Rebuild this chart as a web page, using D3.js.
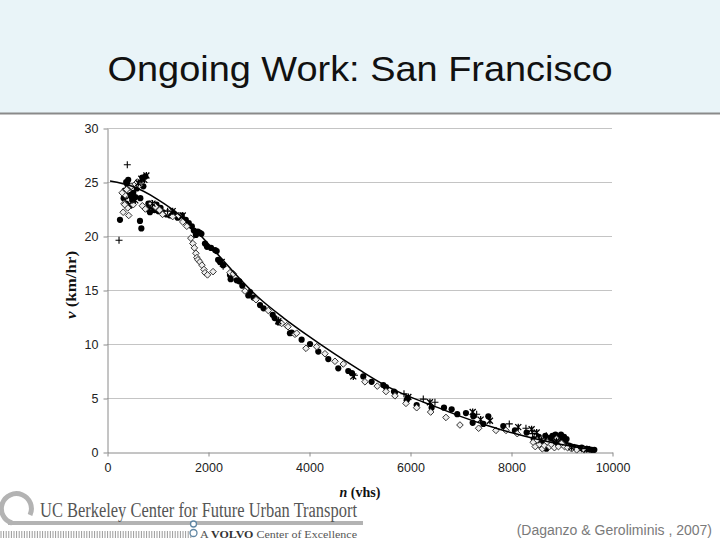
<!DOCTYPE html>
<html>
<head>
<meta charset="utf-8">
<script src="https://cdn.jsdelivr.net/npm/d3@7"></script>
<style>
html,body{margin:0;padding:0;background:#fff;}
svg{display:block;}
</style>
</head>
<body>
<svg id="chart" width="720" height="540"></svg>
<script>
// ---- data (n in vehicles, v in km/hr) ----
const titleText = "Ongoing Work: San Francisco";
const citation = "(Daganzo & Geroliminis , 2007)";
const xTicks = [0, 2000, 4000, 6000, 8000, 10000];
const yTicks = [0, 5, 10, 15, 20, 25, 30];

const curveN = [60, 500, 1000, 1500, 2000, 2500, 3000, 3500, 4000, 4500, 5000, 5500, 6000, 6500, 7000, 7500, 8000, 8500, 9000, 9500, 9700];
const curveV = [25.1, 24.6, 23.4, 21.7, 19.3, 16.7, 14.3, 12.4, 10.7, 9.1, 7.6, 6.2, 5.1, 4.2, 3.3, 2.5, 1.8, 1.2, 0.7, 0.32, 0.22];

const filledPts = [[257,21.5],[653,21.4],[680,20.7],[1840,20.3],[1870,20.2],
[330,23.5],[350,24.2],[380,23.0],[400,24.8],[420,25.2],[440,24.5],[470,23.8],[500,23.3],[520,24.0],[560,23.6],[590,24.4],[460,22.8],[380,25.0],[620,24.9],[700,25.4],[760,25.5],[720,24.6],[660,23.5],
[800,22.5],[820,23.0],[850,22.2],[900,22.7],[940,22.4],[980,22.9],[1020,22.3],[1060,22.6],[1110,22.2],[1180,22.0],[1250,21.9],[1320,22.1],[1400,21.7],[1480,21.9],[1560,21.5],[1620,21.2],[1680,20.9],[1720,20.5],[1760,20.1],[1800,20.4],
[1940,19.3],[1980,19.0],[2060,18.9],[2140,18.7],[2172,18.6],[2200,17.8],[2237,17.6],[2300,17.3],[2435,16.4],[2449,16.0],[2568,15.9],[2620,15.8],[2680,15.4],[2798,14.5],[2831,14.8],[2900,14.3],[3030,13.6],[3100,13.3],[3281,12.7],[3320,12.4],[3400,12.0],[3623,11.0],[3657,11.05],[3854,10.4],[4020,10.0],[4184,9.3],[4382,8.6],[4580,7.75],[4778,7.5],[4850,7.3],[5075,7.0],[5240,6.5],[5471,6.2],[5524,6.0],[5683,5.6],[5702,5.5],[5934,4.8],[5954,5.0],[6132,4.35],[6428,4.1],[6673,4.1],[6825,3.95],[6936,3.5],[7108,3.6],[7254,3.3],[7241,2.7],[7452,2.6],[7551,3.3],[7847,2.4],[8078,2.0],[8309,1.8],
[8450,1.2],[8500,0.8],[8550,1.4],[8600,0.5],[8650,1.0],[8700,0.3],[8680,1.5],
[8780,1.3],[8820,1.5],[8850,1.1],[8880,1.6],[8900,0.9],[8930,1.4],[8960,1.2],[8990,1.6],[9020,1.0],[9050,1.4],[9080,0.8],[9100,1.2],[8840,0.8],[8950,0.7],[9000,1.3],
[9150,0.6],[9200,0.5],[9250,0.45],[9300,0.4],[9350,0.35],[9400,0.4],[9450,0.3],[9500,0.3],[9550,0.25],[9600,0.2],[9650,0.2]];

const diamondPts = [[320,22.2],[340,23.0],[360,23.8],[390,24.3],[410,22.6],[430,21.9],[350,22.9],[300,24.0],[480,24.6],[520,22.9],[560,24.8],[600,25.0],[640,24.7],
[700,22.8],[760,22.5],[880,23.0],[960,22.7],[1040,22.4],[1100,22.0],[1200,22.2],[1300,21.8],[1420,21.9],[1500,21.3],[1580,20.9],
[1660,19.8],[1700,19.3],[1730,18.9],[1760,18.4],[1780,18.0],[1800,17.8],[1840,17.6],[1880,17.3],[1920,16.9],[1940,16.6],[1990,16.4],[2100,16.7],
[2435,16.6],[2501,16.5],[2732,14.9],[2950,14.1],[3194,13.1],[3458,11.9],[3558,11.7],[3584,11.6],[3722,10.9],[3756,11.0],[3940,9.6],[4152,9.75],[4316,9.1],[4514,8.4],[4679,8.15],[5108,6.5],[5352,6.1],[5524,5.6],[5702,5.2],[5920,4.5],[6132,4.1],[6409,3.7],[6712,3.2],[6989,2.5],[7359,2.2],[7702,2.0],[7900,2.0],[8124,1.7],
[8440,0.9],[8480,0.5],[8520,1.1],[8560,0.7],[8600,1.2],[8620,0.3],[8660,0.6],[8720,0.9],[8760,0.5],[8800,0.7],[8860,0.4],[8900,1.2],[8940,0.5],[9000,0.8],[9060,0.5],[9120,0.4],[9200,0.3],[9300,0.2],[9450,0.2]];

const plusPts = [[402,26.6],[238,19.6],[500,23.5],[1200,22.3],[2300,17.2],[3400,12.2],[4900,7.1],[5881,5.4],[6263,4.9],[6494,4.6],[7320,3.5],[7966,2.6],[8296,2.2],[8428,1.7],[8700,1.5],[9400,0.3]];

const starPts = [[620,24.9],[680,25.3],[740,25.2],[780,25.6],[560,23.3],[450,23.7],[900,23.0],[1300,22.3],[1500,21.9],[2270,17.6],[3392,12.1],[4877,7.0],[5967,5.1],[6395,4.6],[7241,3.7],[7399,3.0],[7583,2.9],[8144,2.3],[8408,2.1],[8508,1.8],[8600,1.1],[8900,1.0],[9200,0.45],[9500,0.25]];

// ---- drawing ----
const svg = d3.select("#chart");
const W = 720;

// title band
svg.append("rect").attr("x",0).attr("y",0).attr("width",W).attr("height",113).attr("fill","#e9f4f8");
svg.append("line").attr("x1",0).attr("x2",W).attr("y1",113.5).attr("y2",113.5).attr("stroke","#8a8a8a").attr("stroke-width",2);
svg.append("text").attr("x",360).attr("y",81).attr("text-anchor","middle")
  .attr("font-family","Liberation Sans, Arial, sans-serif").attr("font-size",35).attr("fill","#111")
  .attr("textLength",505).attr("lengthAdjust","spacingAndGlyphs")
  .text(titleText);

const x = d3.scaleLinear().domain([0,10000]).range([107,612]);
const y = d3.scaleLinear().domain([0,30]).range([452,128]);

// gridlines
svg.append("g").selectAll("line").data(yTicks.filter(d=>d>0)).join("line")
  .attr("x1",x(0)).attr("x2",x(10000)).attr("y1",d=>Math.round(y(d))+0.5).attr("y2",d=>Math.round(y(d))+0.5)
  .attr("stroke","#c4c4c4").attr("stroke-width",1);

// axes
const yAxis = svg.append("g").attr("transform",`translate(${x(0)+0.5},0.5)`)
  .call(d3.axisLeft(y).tickValues(yTicks).tickSize(4).tickPadding(5).tickSizeOuter(0));
const xAxis = svg.append("g").attr("transform",`translate(0.5,${y(0)+0.5})`)
  .call(d3.axisBottom(x).tickValues(xTicks).tickSize(4).tickPadding(7).tickSizeOuter(0).tickFormat(d3.format("d")));
[yAxis,xAxis].forEach(a=>{
  a.select(".domain").attr("stroke","#8a8a8a");
  a.selectAll(".tick line").attr("stroke","#8a8a8a");
  a.selectAll(".tick text").attr("font-family","Liberation Sans, Arial, sans-serif").attr("font-size",12.5).attr("fill","#222");
});

// markers
const g = svg.append("g");
g.selectAll("circle.f").data(filledPts).join("circle").attr("class","f")
  .attr("cx",d=>x(d[0])).attr("cy",d=>y(d[1])).attr("r",3.1).attr("fill","#000");
g.selectAll("path.d").data(diamondPts).join("path").attr("class","d")
  .attr("transform",d=>`translate(${x(d[0])},${y(d[1])})`).attr("d","M0,-3.3L3.3,0L0,3.3L-3.3,0Z")
  .attr("fill","#eeeeee").attr("stroke","#333").attr("stroke-width",1);
g.selectAll("path.s").data(starPts).join("path").attr("class","s")
  .attr("transform",d=>`translate(${x(d[0])},${y(d[1])})`)
  .attr("d","M-3,-3L3,3M-3,3L3,-3M0,-3.5L0,3.5")
  .attr("fill","none").attr("stroke","#000").attr("stroke-width",1.3);
g.selectAll("path.p").data(plusPts).join("path").attr("class","p")
  .attr("transform",d=>`translate(${x(d[0])},${y(d[1])})`)
  .attr("d","M-3.5,0L3.5,0M0,-3.5L0,3.5")
  .attr("fill","none").attr("stroke","#000").attr("stroke-width",1.1);

// fitted curve
const curveData = curveN.map((n,i)=>[n,curveV[i]]);
svg.append("path").datum(curveData)
  .attr("d",d3.line().x(d=>x(d[0])).y(d=>y(d[1])).curve(d3.curveMonotoneX))
  .attr("fill","none").attr("stroke","#000").attr("stroke-width",1.5);

// axis titles
const yl = svg.append("text").attr("transform","translate(76,285) rotate(-90)").attr("text-anchor","middle")
  .attr("font-family","Liberation Serif, Times New Roman, serif").attr("font-size",15).attr("font-weight","bold").attr("fill","#111")
  .attr("textLength",68).attr("lengthAdjust","spacingAndGlyphs");
yl.append("tspan").attr("font-style","italic").text("v");
yl.append("tspan").text("  (km/hr)");
const xl = svg.append("text").attr("x",360).attr("y",497).attr("text-anchor","middle")
  .attr("font-family","Liberation Serif, Times New Roman, serif").attr("font-size",14).attr("font-weight","bold").attr("fill","#111");
xl.append("tspan").attr("font-style","italic").text("n");
xl.append("tspan").text("  (vhs)");

// logo
const logo = svg.append("g");
logo.append("path").attr("d","M12,523 A15,15 0 1 1 30,515").attr("fill","none").attr("stroke","#b3b3b3").attr("stroke-width",5);
logo.append("line").attr("x1",8).attr("x2",363).attr("y1",523).attr("y2",523).attr("stroke","#b3b3b3").attr("stroke-width",4);
logo.append("text").attr("x",40).attr("y",517).attr("font-family","Liberation Serif, Times New Roman, serif")
  .attr("font-size",20).attr("fill","#555").attr("textLength",317).attr("lengthAdjust","spacingAndGlyphs")
  .text("UC Berkeley Center for Future Urban Transport");
logo.append("g").selectAll("line").data(d3.range(0,190,2.6)).join("line")
  .attr("x1",d=>d+1).attr("x2",d=>d+1).attr("y1",531).attr("y2",538).attr("stroke","#9a9a9a").attr("stroke-width",1);
logo.append("circle").attr("cx",193.5).attr("cy",524).attr("r",3).attr("fill","#fff").attr("stroke","#5f86a3").attr("stroke-width",1.3);
logo.append("circle").attr("cx",193.5).attr("cy",533).attr("r",3.5).attr("fill","#fff").attr("stroke","#5f86a3").attr("stroke-width",1.3);
const vt = logo.append("text").attr("x",200).attr("y",538).attr("font-family","Liberation Serif, Times New Roman, serif")
  .attr("font-size",11).attr("fill","#555").attr("textLength",157).attr("lengthAdjust","spacingAndGlyphs");
vt.append("tspan").text("A ");
vt.append("tspan").attr("font-weight","bold").attr("fill","#333").text("VOLVO");
vt.append("tspan").text(" Center of Excellence");

// citation
svg.append("text").attr("x",712).attr("y",535).attr("text-anchor","end")
  .attr("font-family","Liberation Sans, Arial, sans-serif").attr("font-size",14).attr("fill","#7a7a7a")
  .text(citation);
</script>
</body>
</html>
